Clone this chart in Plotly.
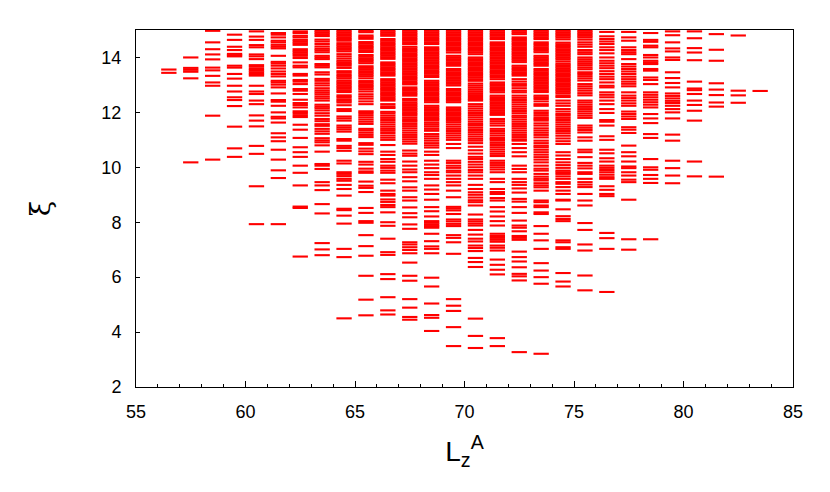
import plotly.graph_objects as go

# L_z^A values (columns) and the xi levels found in each column
L_values = [56, 57, 58, 59, 60, 61, 62, 63, 64, 65, 66, 67, 68, 69,
            70, 71, 72, 73, 74, 75, 76, 77, 78, 79, 80, 81, 82, 83]

xi_56 = [13.56, 13.44]
xi_57 = [14.00, 13.62, 13.55, 13.48, 13.24, 10.18]
xi_58 = [14.97, 14.55, 14.30, 14.11, 13.93, 13.63, 13.53, 13.33, 13.09, 12.97, 11.88, 10.28]
xi_59 = [14.83, 14.64, 14.39, 14.27, 14.13, 14.08, 14.04, 13.70, 13.63, 13.40, 13.23, 12.97,
         12.76, 12.55, 12.45, 12.23, 11.48, 10.69, 10.38]
xi_60 = [14.95, 14.76, 14.64, 14.45, 14.37, 14.11, 14.04, 13.94, 13.72, 13.66, 13.58, 13.52,
         13.46, 13.40, 13.34, 12.97, 12.76, 12.67, 12.43, 12.30, 11.89, 11.70, 11.49, 10.78,
         10.49, 9.31, 7.93]
xi_61 = [14.89, 14.83, 14.73, 14.61, 14.55, 14.46, 14.39, 14.33, 14.06, 13.84, 13.78, 13.70,
         13.60, 13.49, 13.40, 13.31, 13.15, 13.09, 13.01, 12.91, 12.69, 12.45, 12.39, 12.24,
         12.00, 11.84, 11.78, 11.63, 11.24, 11.09, 10.95, 10.64, 10.28, 9.89, 9.61, 7.93]
xi_62 = [14.95, 14.89, 14.79, 14.73, 14.64, 14.58, 14.52, 14.46, 14.30, 14.24, 14.18, 14.12,
         14.06, 13.98, 13.82, 13.70, 13.64, 13.40, 13.34, 13.18, 13.12, 13.03, 12.85, 12.79,
         12.67, 12.46, 12.34, 12.27, 12.18, 12.04, 11.98, 11.90, 11.83, 11.55, 11.37, 11.07,
         10.73, 10.55, 10.38, 10.06, 9.80, 9.34, 8.57, 8.52, 6.75]
xi_63 = [14.97, 14.91, 14.85, 14.78, 14.65, 14.58, 14.49, 14.40, 14.32, 14.26, 14.19, 14.06,
         14.00, 13.94, 13.76, 13.70, 13.64, 13.46, 13.38, 13.22, 13.15, 13.06, 12.98, 12.88,
         12.80, 12.73, 12.66, 12.58, 12.51, 12.43, 12.28, 12.21, 12.15, 12.07, 11.97, 11.88,
         11.76, 11.68, 11.57, 11.51, 11.40, 11.31, 11.22, 11.06, 10.98, 10.91, 10.80, 10.57,
         10.12, 10.06, 9.94, 9.46, 9.34, 9.17, 8.66, 8.32, 7.24, 7.01, 6.80]
xi_64 = [14.97, 14.91, 14.85, 14.79, 14.73, 14.67, 14.61, 14.52, 14.46, 14.40, 14.34, 14.28,
         14.22, 14.12, 14.04, 13.96, 13.88, 13.82, 13.76, 13.70, 13.62, 13.50, 13.44, 13.36,
         13.30, 13.24, 13.16, 13.10, 13.04, 12.98, 12.92, 12.86, 12.80, 12.74, 12.62, 12.56,
         12.48, 12.42, 12.36, 12.26, 12.12, 12.05, 11.85, 11.78, 11.70, 11.52, 11.45, 11.38,
         11.30, 11.03, 10.97, 10.78, 10.70, 10.60, 10.24, 10.14, 9.82, 9.76, 9.68, 9.58,
         9.51, 9.36, 9.21, 8.97, 8.49, 8.44, 8.24, 7.95, 7.03, 6.73, 4.50]
xi_65 = [14.97, 14.92, 14.80, 14.74, 14.68, 14.56, 14.50, 14.44, 14.38, 14.32, 14.26, 14.20,
         14.09, 14.03, 13.97, 13.91, 13.85, 13.79, 13.68, 13.62, 13.56, 13.50, 13.44, 13.38,
         13.32, 13.24, 13.14, 13.08, 13.02, 12.96, 12.90, 12.84, 12.76, 12.66, 12.58, 12.50,
         12.40, 12.30, 12.04, 11.98, 11.90, 11.82, 11.74, 11.66, 11.58, 11.40, 11.34, 11.26,
         11.18, 11.10, 10.88, 10.82, 10.68, 10.58, 10.48, 10.20, 10.10, 9.95, 9.85, 9.80,
         9.48, 9.33, 9.25, 9.10, 8.52, 8.34, 8.04, 7.98, 7.53, 7.13, 6.78, 6.05, 5.18, 4.61]
xi_66 = [14.97, 14.91, 14.85, 14.79, 14.67, 14.61, 14.55, 14.49, 14.43, 14.37, 14.31, 14.25,
         14.19, 14.13, 14.07, 14.01, 13.95, 13.82, 13.76, 13.70, 13.64, 13.58, 13.52, 13.46,
         13.40, 13.34, 13.21, 13.15, 13.09, 13.03, 12.97, 12.91, 12.85, 12.79, 12.73, 12.67,
         12.61, 12.55, 12.49, 12.43, 12.30, 12.22, 12.16, 12.02, 11.96, 11.88, 11.80, 11.72,
         11.64, 11.56, 11.48, 11.40, 11.33, 11.25, 11.16, 11.08, 11.00, 10.81, 10.57, 10.45,
         10.30, 10.20, 10.06, 9.98, 9.88, 9.80, 9.55, 9.42, 9.15, 9.03, 8.97, 8.83, 8.74,
         8.63, 8.55, 8.36, 8.00, 7.87, 7.40, 6.91, 6.81, 6.11, 5.93, 5.27, 4.79, 4.64]
xi_67 = [14.97, 14.91, 14.85, 14.79, 14.73, 14.67, 14.61, 14.55, 14.49, 14.39, 14.33, 14.27,
         14.21, 14.15, 14.09, 14.03, 13.97, 13.91, 13.85, 13.79, 13.73, 13.67, 13.61, 13.55,
         13.49, 13.43, 13.37, 13.31, 13.25, 13.19, 13.13, 13.07, 13.02, 12.91, 12.85, 12.79,
         12.73, 12.67, 12.61, 12.49, 12.43, 12.36, 12.30, 12.24, 12.18, 12.12, 12.06, 12.00,
         11.94, 11.88, 11.80, 11.72, 11.66, 11.58, 11.50, 11.42, 11.34, 11.26, 11.18, 11.10,
         11.02, 10.94, 10.86, 10.61, 10.50, 10.42, 10.21, 10.06, 9.92, 9.82, 9.64, 9.49,
         9.27, 9.15, 8.91, 8.79, 8.54, 8.33, 8.18, 7.92, 7.76, 7.27, 7.19, 7.09, 6.99, 6.87,
         6.53, 6.05, 5.87, 5.20, 4.89, 4.55, 4.45]
xi_68 = [14.97, 14.91, 14.85, 14.79, 14.73, 14.67, 14.61, 14.55, 14.49, 14.37, 14.31, 14.25,
         14.19, 14.13, 14.07, 14.01, 13.95, 13.89, 13.83, 13.77, 13.71, 13.65, 13.59, 13.53,
         13.47, 13.41, 13.35, 13.29, 13.15, 13.09, 13.03, 12.97, 12.91, 12.85, 12.79, 12.73,
         12.67, 12.61, 12.55, 12.49, 12.43, 12.37, 12.24, 12.18, 12.12, 12.06, 12.00, 11.94,
         11.88, 11.82, 11.76, 11.70, 11.62, 11.55, 11.48, 11.40, 11.33, 11.21, 11.13, 11.05,
         10.97, 10.88, 10.80, 10.72, 10.57, 10.45, 10.24, 10.10, 9.97, 9.82, 9.72, 9.58,
         9.34, 9.19, 9.03, 8.82, 8.55, 8.40, 8.21, 8.04, 7.98, 7.92, 7.86, 7.80, 7.58, 7.31,
         7.12, 7.03, 6.87, 5.98, 5.66, 5.04, 4.62, 4.52, 4.04]
xi_69 = [14.97, 14.91, 14.85, 14.79, 14.73, 14.67, 14.61, 14.55, 14.49, 14.43, 14.37, 14.31,
         14.25, 14.18, 14.06, 14.00, 13.94, 13.88, 13.82, 13.76, 13.70, 13.58, 13.52, 13.46,
         13.40, 13.34, 13.28, 13.22, 13.16, 13.10, 13.04, 12.98, 12.85, 12.79, 12.73, 12.67,
         12.61, 12.55, 12.49, 12.43, 12.37, 12.18, 12.12, 12.06, 12.00, 11.94, 11.88, 11.82,
         11.76, 11.70, 11.64, 11.56, 11.48, 11.40, 11.32, 11.24, 11.16, 11.08, 11.00, 10.85,
         10.70, 10.24, 10.16, 10.06, 9.98, 9.88, 9.82, 9.70, 9.58, 9.46, 9.34, 9.15, 8.91,
         8.56, 8.50, 8.43, 8.30, 8.10, 8.03, 7.94, 7.86, 7.53, 7.43, 7.27, 6.85, 5.20, 4.96,
         4.77, 4.18, 3.49]
xi_70 = [14.97, 14.91, 14.85, 14.79, 14.73, 14.67, 14.61, 14.55, 14.49, 14.43, 14.37, 14.31,
         14.25, 14.19, 14.12, 14.00, 13.94, 13.88, 13.82, 13.76, 13.70, 13.64, 13.58, 13.52,
         13.46, 13.40, 13.34, 13.28, 13.21, 13.15, 13.05, 12.98, 12.91, 12.84, 12.77, 12.70,
         12.63, 12.56, 12.49, 12.43, 12.30, 12.22, 12.14, 12.06, 11.98, 11.90, 11.82, 11.74,
         11.66, 11.58, 11.52, 11.44, 11.36, 11.28, 11.20, 11.12, 11.04, 10.97, 10.88, 10.75,
         10.62, 10.50, 10.38, 10.30, 10.20, 10.10, 10.00, 9.90, 9.82, 9.70, 9.58, 9.36, 9.21,
         9.09, 9.00, 8.90, 8.80, 8.73, 8.61, 8.28, 8.10, 8.03, 7.95, 7.88, 7.72, 7.55, 7.40,
         7.30, 7.15, 7.06, 6.95, 6.70, 6.55, 6.37, 4.49, 3.86, 3.42]
xi_71 = [14.97, 14.91, 14.85, 14.79, 14.73, 14.67, 14.55, 14.49, 14.43, 14.37, 14.31, 14.25,
         14.19, 14.13, 14.07, 14.01, 13.95, 13.89, 13.83, 13.77, 13.71, 13.65, 13.59, 13.53,
         13.47, 13.41, 13.35, 13.29, 13.21, 13.09, 13.03, 12.97, 12.91, 12.85, 12.79, 12.73,
         12.61, 12.55, 12.49, 12.43, 12.37, 12.31, 12.25, 12.19, 12.13, 12.07, 12.01, 11.95,
         11.91, 11.76, 11.68, 11.60, 11.52, 11.40, 11.32, 11.24, 11.16, 11.08, 11.03, 10.97,
         10.89, 10.81, 10.73, 10.65, 10.57, 10.49, 10.41, 10.24, 10.16, 10.08, 10.00, 9.92,
         9.82, 9.58, 9.46, 9.21, 9.10, 9.03, 8.88, 8.79, 8.55, 8.39, 8.21, 8.04, 7.88, 7.58,
         7.50, 7.43, 7.36, 7.29, 7.15, 7.07, 6.97, 6.64, 6.45, 6.27, 6.10, 3.78, 3.49]
xi_72 = [14.97, 14.91, 14.85, 14.73, 14.67, 14.61, 14.55, 14.49, 14.43, 14.37, 14.31, 14.25,
         14.19, 14.13, 14.07, 14.01, 13.95, 13.89, 13.83, 13.70, 13.64, 13.58, 13.52, 13.46,
         13.40, 13.34, 13.21, 13.12, 13.03, 12.97, 12.88, 12.79, 12.73, 12.61, 12.53, 12.45,
         12.37, 12.29, 12.21, 12.13, 12.05, 11.97, 11.88, 11.82, 11.74, 11.66, 11.58, 11.50,
         11.42, 11.34, 11.26, 11.18, 11.10, 11.02, 10.97, 10.85, 10.70, 10.55, 10.40, 10.06,
         9.94, 9.82, 9.58, 9.46, 9.36, 9.23, 9.08, 8.85, 8.75, 8.55, 8.34, 8.06, 7.88, 7.80,
         7.67, 7.50, 7.43, 7.36, 6.93, 6.73, 6.57, 6.36, 6.12, 6.03, 5.88, 3.27]
xi_73 = [14.97, 14.91, 14.85, 14.79, 14.73, 14.67, 14.55, 14.49, 14.43, 14.37, 14.31, 14.25,
         14.19, 14.06, 14.00, 13.94, 13.88, 13.82, 13.76, 13.70, 13.58, 13.52, 13.46, 13.40,
         13.34, 13.28, 13.22, 13.16, 13.10, 13.04, 12.98, 12.92, 12.86, 12.80, 12.74, 12.61,
         12.55, 12.49, 12.40, 12.30, 12.24, 12.06, 11.98, 11.90, 11.82, 11.76, 11.70, 11.60,
         11.52, 11.42, 11.34, 11.26, 11.18, 11.09, 10.97, 10.88, 10.79, 10.73, 10.64, 10.55,
         10.46, 10.37, 10.28, 10.18, 10.06, 9.95, 9.88, 9.76, 9.66, 9.58, 9.52, 9.42, 9.34,
         9.27, 9.15, 8.79, 8.55, 8.73, 8.61, 8.36, 8.30, 7.86, 7.58, 7.34, 7.03, 6.51, 6.24,
         6.00, 5.76, 3.21]
xi_74 = [14.97, 14.91, 14.85, 14.79, 14.73, 14.66, 14.54, 14.48, 14.42, 14.36, 14.30, 14.24,
         14.18, 14.12, 14.06, 14.00, 13.94, 13.86, 13.78, 13.72, 13.66, 13.60, 13.54, 13.48,
         13.42, 13.36, 13.30, 13.24, 13.18, 13.12, 13.06, 13.00, 12.94, 12.88, 12.82, 12.76,
         12.70, 12.62, 12.56, 12.43, 12.33, 12.24, 12.12, 12.03, 11.94, 11.88, 11.80, 11.72,
         11.64, 11.56, 11.48, 11.40, 11.32, 11.24, 11.15, 11.05, 10.95, 10.85, 10.55, 10.43,
         10.30, 10.18, 10.08, 9.98, 9.88, 9.82, 9.76, 9.67, 9.58, 9.46, 9.40, 9.28, 9.15,
         9.03, 8.82, 8.79, 8.47, 8.22, 8.12, 8.04, 7.34, 7.27, 7.09, 7.03, 6.15, 5.84, 5.66]
xi_75 = [14.97, 14.91, 14.85, 14.79, 14.73, 14.65, 14.55, 14.47, 14.39, 14.27, 14.19, 14.12,
         14.00, 13.93, 13.86, 13.79, 13.72, 13.64, 13.57, 13.46, 13.40, 13.32, 13.24, 13.16,
         13.03, 12.95, 12.87, 12.79, 12.70, 12.62, 12.43, 12.36, 12.28, 12.20, 12.12, 12.04,
         11.96, 11.88, 11.80, 11.52, 11.44, 11.36, 11.27, 11.09, 10.97, 10.64, 10.55, 10.37,
         10.16, 10.06, 9.96, 9.82, 9.76, 9.58, 9.46, 9.37, 9.28, 9.03, 8.79, 8.61, 7.97,
         7.72, 7.19, 6.97, 6.06, 5.52]
xi_76 = [14.93, 14.77, 14.67, 14.58, 14.49, 14.37, 14.27, 14.15, 14.00, 13.88, 13.79, 13.70,
         13.61, 13.50, 13.40, 13.30, 13.21, 13.09, 12.97, 12.91, 12.73, 12.64, 12.55, 12.43,
         12.30, 12.12, 11.98, 11.72, 11.66, 11.52, 11.13, 11.00, 10.64, 10.51, 10.33, 10.21,
         10.06, 9.98, 9.90, 9.82, 9.73, 9.64, 9.58, 9.31, 9.18, 9.03, 8.95, 7.61, 7.42,
         7.03, 5.46]
xi_77 = [14.93, 14.73, 14.61, 14.37, 14.27, 14.19, 14.12, 13.94, 13.76, 13.67, 13.58, 13.49,
         13.40, 13.30, 13.21, 13.12, 13.04, 12.95, 12.73, 12.61, 12.52, 12.43, 12.33, 12.24,
         12.03, 11.94, 11.85, 11.76, 11.46, 11.37, 11.25, 10.79, 10.55, 10.40, 10.21, 10.03,
         9.97, 9.82, 9.70, 9.55, 9.46, 8.82, 7.38, 7.00]
xi_78 = [14.89, 14.64, 14.57, 14.43, 14.37, 14.09, 14.00, 13.88, 13.82, 13.76, 13.58, 13.52,
         13.27, 13.18, 13.03, 12.73, 12.64, 12.55, 12.46, 12.37, 12.28, 12.18, 11.94, 11.78,
         11.61, 11.21, 11.07, 10.30, 10.00, 9.91, 9.72, 9.58, 9.43, 7.38]
xi_79 = [14.95, 14.81, 14.55, 14.33, 14.22, 14.00, 13.91, 13.46, 13.25, 13.07, 12.91, 12.69,
         12.60, 12.51, 12.42, 12.34, 12.24, 12.12, 12.00, 11.78, 11.19, 10.97, 10.24, 9.97,
         9.70, 9.42]
xi_80 = [14.95, 14.70, 14.34, 14.18, 13.90, 13.12, 12.87, 12.81, 12.67, 12.43, 12.27, 12.06,
         11.70, 10.21, 9.67]
xi_81 = [14.85, 14.28, 13.88, 13.06, 12.83, 12.63, 12.36, 12.21, 9.66]
xi_82 = [14.80, 12.79, 12.62, 12.35]
xi_83 = [12.78]

columns = [xi_56, xi_57, xi_58, xi_59, xi_60, xi_61, xi_62, xi_63, xi_64, xi_65,
           xi_66, xi_67, xi_68, xi_69, xi_70, xi_71, xi_72, xi_73, xi_74, xi_75,
           xi_76, xi_77, xi_78, xi_79, xi_80, xi_81, xi_82, xi_83]

x_ticks = [55, 60, 65, 70, 75, 80, 85]
y_ticks = [2, 4, 6, 8, 10, 12, 14]

xs, ys = [], []
for L, vals in zip(L_values, columns):
    for v in vals:
        xs += [L + 0.15, L + 0.85, None]
        ys += [v, v, None]

fig = go.Figure(go.Scatter(x=xs, y=ys, mode="lines",
                           line=dict(color="#ff0000", width=2.1),
                           hoverinfo="skip", showlegend=False))

axis_common = dict(showline=True, linecolor="black", linewidth=1, mirror=True,
                   showgrid=False, zeroline=False, ticks="inside", automargin=False,
                   tickcolor="black", tickfont=dict(family="Liberation Sans, Arial", size=18, color="black"))

fig.update_layout(
    width=830, height=492,
    margin=dict(l=136, r=37, t=30, b=105),
    paper_bgcolor="white", plot_bgcolor="white",
    xaxis=dict(range=[55, 85], tickvals=x_ticks, ticklen=6,
               minor=dict(dtick=1, ticks="inside", ticklen=3, tickcolor="black"),
               ticklabelstandoff=8,
               title=dict(text="L<sub>z</sub><sup>A</sup>",
                          font=dict(family="Liberation Sans, Arial", size=28, color="black"),
                          standoff=20),
               **axis_common),
    yaxis=dict(range=[2, 15], tickvals=y_ticks, ticklen=4,
               ticklabelstandoff=10,
               title=dict(text="ξ", font=dict(family="DejaVu Serif, serif", size=28, color="black"),
                          standoff=42),
               **axis_common),
)

fig.write_html("out.html", config={"displayModeBar": False},
               post_script="document.body.style.margin='0';")
